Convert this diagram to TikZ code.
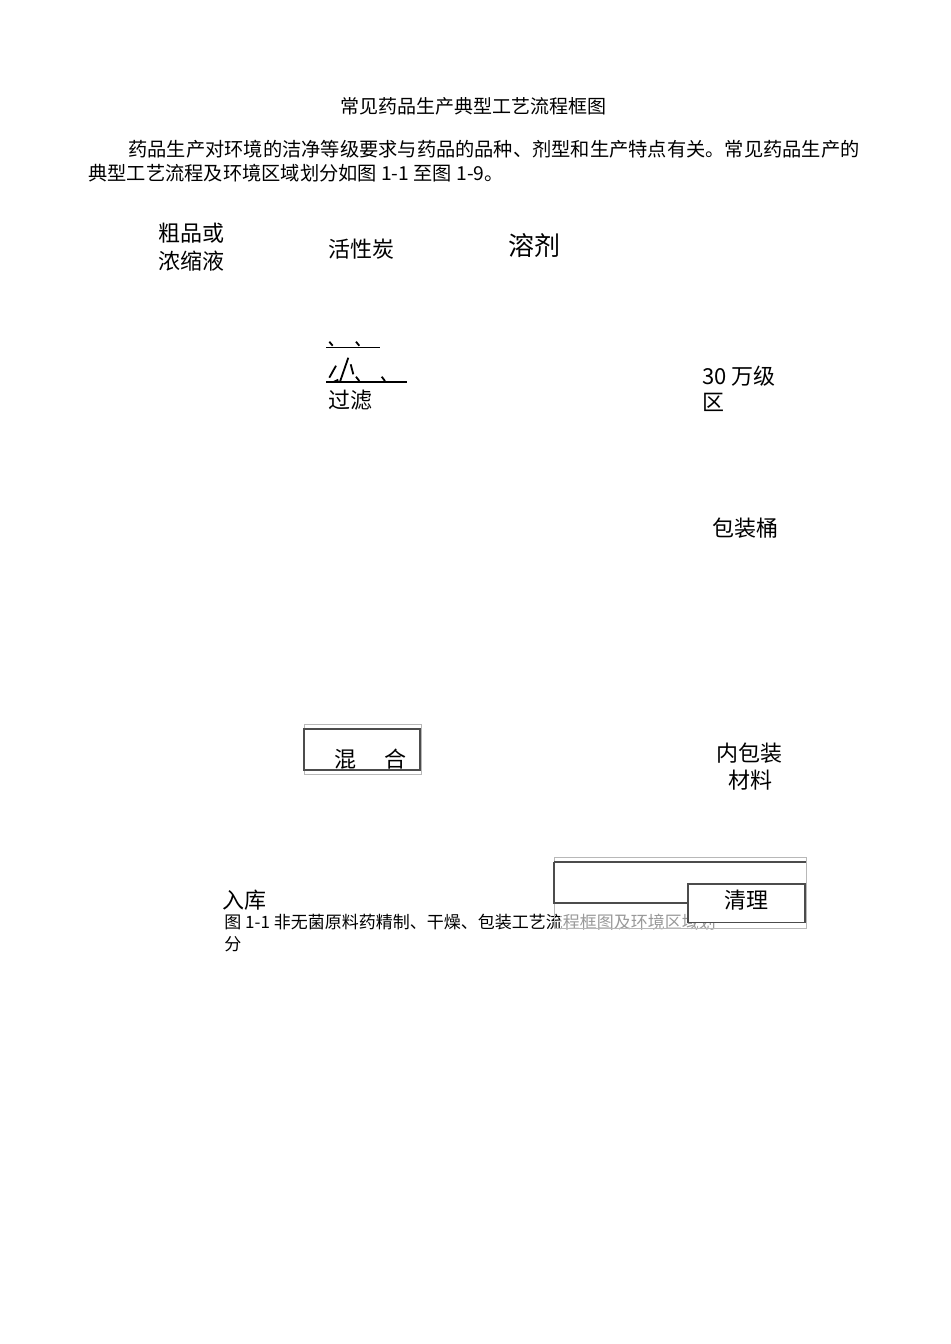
\documentclass[tikz,border=0pt]{standalone}
\usepackage{fontspec}
\setmainfont{Noto Sans CJK SC}
\begin{document}
\begin{tikzpicture}[x=0.5pt,y=-0.5pt,
  lbl/.style={inner sep=0pt,anchor=west,font=\fontsize{11}{13}\selectfont},
  body/.style={inner sep=0pt,anchor=west,font=\fontsize{9.62}{11}\selectfont},
  captxt/.style={inner sep=0pt,anchor=west,font=\fontsize{8.5}{10}\selectfont},
  glyph/.style={line width=0.9pt,black},
  lightbox/.style={draw=black!28,line width=0.5pt},
  darkline/.style={draw=black!70,line width=0.55pt}]
\useasboundingbox[fill=white] (0,0) rectangle (950,1344);
% title and paragraph
\node[inner sep=0pt,font=\fontsize{9.5}{11}\selectfont] (title) at (473,106) {常见药品生产典型工艺流程框图};
\node[body] (p1) at (128,149) {药品生产对环境的洁净等级要求与药品的品种、剂型和生产特点有关。常见药品生产的};
\node[body] (p2) at (88,173) {典型工艺流程及环境区域划分如图 1-1 至图 1-9。};
% labels
\node[lbl] (crude1) at (158,233) {粗品或};
\node[lbl] (crude2) at (158,261) {浓缩液};
\node[lbl] (carbon) at (328,249) {活性炭};
\node[lbl,font=\fontsize{13}{15}\selectfont] (solvent) at (508,246) {溶剂};
\node[lbl] (filter) at (328,400) {过滤};
\node[lbl] (zone1) at (702,376) {30 万级};
\node[lbl] (zone2) at (702,402) {区};
\node[lbl] (drum) at (712,528) {包装桶};
\node[lbl] (inner1) at (716,753) {内包装};
\node[lbl] (inner2) at (728,780) {材料};
\node[lbl] (store) at (222,900) {入库};
% broken glyph above 过滤
\draw[glyph] (326,347.5) -- (380,347.5);
\draw[glyph] (329.3,341.7) -- (332.7,345.7);
\draw[glyph] (356,341.7) -- (359.3,345.7);
\draw[glyph] (326,381.7) -- (407,381.7);
\draw[glyph] (336,365.7) -- (329.3,377.7);
\draw[glyph] (348.3,357.7) -- (340,381.7);
\draw[glyph] (334,381.7) -- (338.3,379.7);
\draw[glyph] (350.7,364.3) -- (353.3,374.3);
\draw[glyph] (356,376.7) -- (359.3,381);
\draw[glyph] (381.7,376.7) -- (385,381);
% mixing box
\draw[lightbox] (304,724.3) rectangle (421.7,774.3);
\draw[darkline] (304,729) rectangle (420,770);
\node[lbl] (mix1) at (334,759) {混};
\node[lbl] (mix2) at (384,759) {合};
% caption
\node[captxt] (cap1) at (224,922) {图 1-1 非无菌原料药精制、干燥、包装工艺流程框图及环境区域划};
\node[captxt] (cap2) at (224,944) {分};
% bottom boxes
\fill[white,opacity=0.6] (560,903) rectangle (806,928);
\draw[lightbox] (554,857) rectangle (806.5,928);
\draw[darkline] (554,862) -- (806,862);
\draw[darkline] (554,862) -- (554,903) -- (688,903);
\draw[darkline,fill=white] (688,884) rectangle (805,922.5);
\node[inner sep=0pt,font=\fontsize{11}{13}\selectfont] (clean) at (746.5,900) {清理};
\end{tikzpicture}
\end{document}
